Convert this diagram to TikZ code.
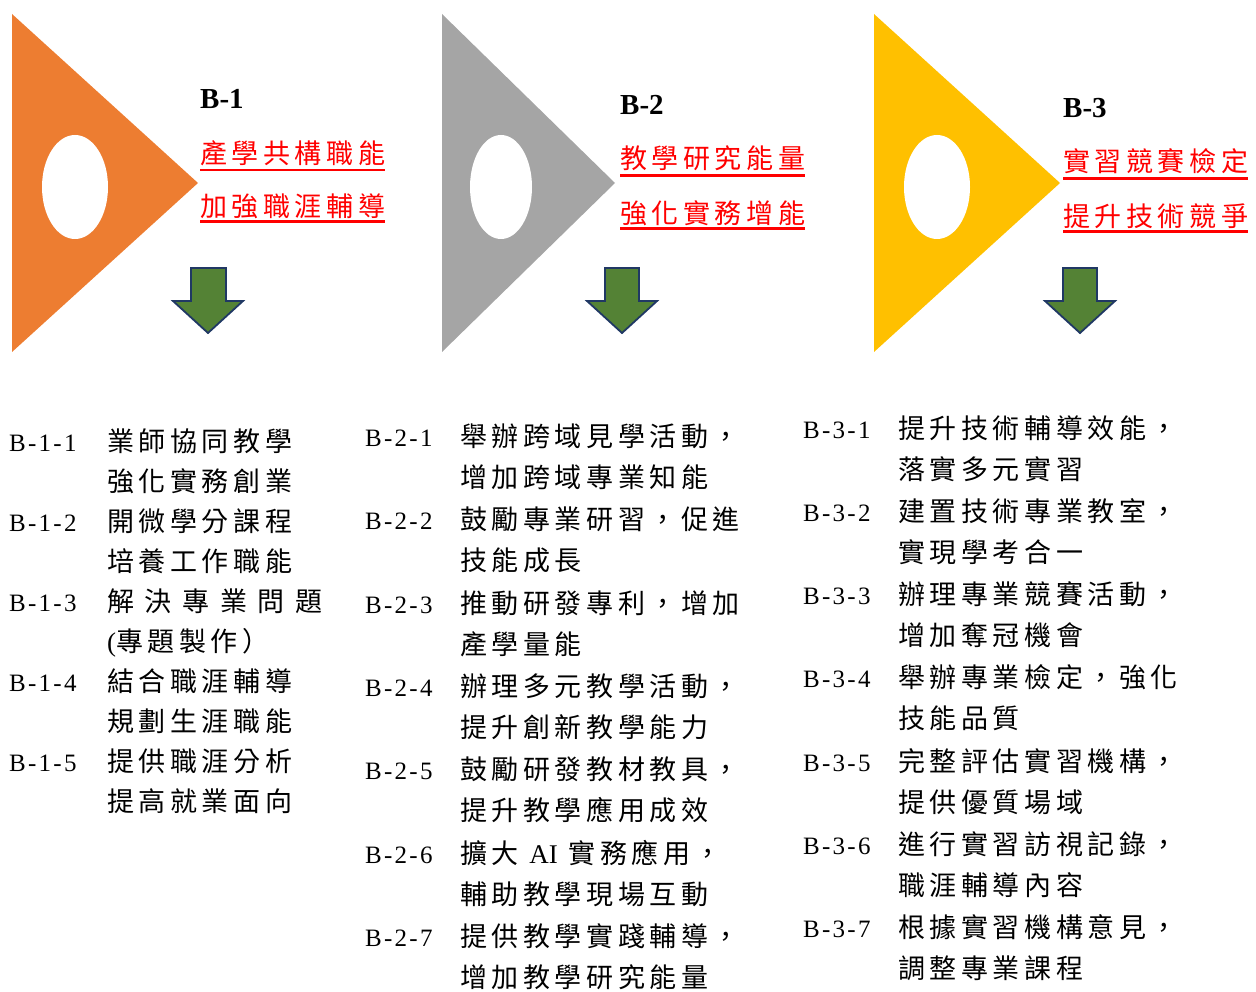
\documentclass[tikz,border=0pt]{standalone}
\usepackage{fontspec}
\setmainfont{Liberation Serif}
\newfontfamily\zhfont[LetterSpace=17]{Noto Sans CJK TC}
\newfontfamily\enfont[LetterSpace=9]{Liberation Serif}
\usepackage{tikz}
\usetikzlibrary{positioning, shapes.geometric}

\definecolor{orangetri}{HTML}{ED7D31}
\definecolor{graytri}{HTML}{A5A5A5}
\definecolor{goldtri}{HTML}{FFC000}
\definecolor{arrowgreen}{HTML}{548235}
\definecolor{arrowedge}{HTML}{203864}

\tikzset{
  hole/.style={ellipse, fill=white, draw=none, inner sep=0pt},
  bhead/.style={anchor=base west, inner sep=0pt, font=\fontsize{29}{29}\selectfont\bfseries},
  goal/.style={anchor=base west, inner sep=0pt, text=red, font=\fontsize{27}{30}\selectfont\zhfont},
  uline/.style={red, line width=2.2pt},
  blockarrow/.style={fill=arrowgreen, draw=arrowedge, line width=1.8pt, line join=miter},
  code/.style={anchor=base west, inner sep=0pt, font=\fontsize{25}{40}\selectfont\enfont},
  % base of a two-line node sits on its second line
  plan/.style={anchor=base west, inner sep=0pt, align=left, font=\fontsize{27}{40}\selectfont\zhfont},
  plantwo/.style={plan, font=\fontsize{27}{41.6}\selectfont\zhfont}
}

\begin{document}
\begin{tikzpicture}[x=1pt, y=-1pt]
\useasboundingbox (0,0) rectangle (1256,992);

% B-1
\fill[orangetri] (12,14) -- (198,183) -- (12,352) -- cycle;
\node[hole, minimum width=66pt, minimum height=104pt] (hole1) at (75,187) {};
\node[bhead] (b1) at (200,109) {B-1};
\node[goal] (g11) at (200,164) {產學共構職能};
\node[goal] (g12) at (200,217) {加強職涯輔導};
\draw[uline] ([yshift=-3pt]g11.south west) -- ([yshift=-3pt]g11.south east);
\draw[uline] ([yshift=-2pt]g12.south west) -- ([yshift=-2pt]g12.south east);
\draw[blockarrow] (191,268) -- (226,268) -- (226,301) -- (243,301) -- (208,333)
  -- (173,301) -- (191,301) -- cycle;

% B-2
\fill[graytri] (442,14) -- (615,183) -- (442,352) -- cycle;
\node[hole, minimum width=62pt, minimum height=104pt] (hole2) at (501,187) {};
\node[bhead] (b2) at (620,115) {B-2};
\node[goal] (g21) at (620,169) {教學研究能量};
\node[goal] (g22) at (620,224) {強化實務增能};
\draw[uline] ([yshift=-4pt]g21.south west) -- ([yshift=-4pt]g21.south east);
\draw[uline] ([yshift=-2pt]g22.south west) -- ([yshift=-2pt]g22.south east);
\draw[blockarrow] (605,268) -- (639,268) -- (639,301) -- (657,301) -- (622,333)
  -- (587,301) -- (605,301) -- cycle;

% B-3
\fill[goldtri] (874,14) -- (1060,183) -- (874,352) -- cycle;
\node[hole, minimum width=66pt, minimum height=104pt] (hole3) at (937,187) {};
\node[bhead] (b3) at (1063,118) {B-3};
\node[goal] (g31) at (1063,172) {實習競賽檢定};
\node[goal] (g32) at (1063,227) {提升技術競爭};
\draw[uline] ([yshift=-4pt]g31.south west) -- ([yshift=-4pt]g31.south east);
\draw[uline] ([yshift=-2pt]g32.south west) -- ([yshift=-2pt]g32.south east);
\draw[blockarrow] (1063,268) -- (1097,268) -- (1097,301) -- (1115,301) -- (1080,333)
  -- (1045,301) -- (1063,301) -- cycle;

% B-1 plans
\node[code] (c11) at (9,451) {B-1-1};
\node[plan] (p11) at (107,491) {業師協同教學\\強化實務創業};
\node[code] (c12) at (9,531) {B-1-2};
\node[plan] (p12) at (107,571) {開微學分課程\\培養工作職能};
\node[code] (c13) at (9,611) {B-1-3};
\node[plan] (p13) at (107,651) {解 決 專 業 問 題\\{\rmfamily(}專題製作）};
\node[code] (c14) at (9,691) {B-1-4};
\node[plan] (p14) at (107,731) {結合職涯輔導\\規劃生涯職能};
\node[code] (c15) at (9,771) {B-1-5};
\node[plan] (p15) at (107,811) {提供職涯分析\\提高就業面向};

% B-2 plans
\node[code] (c21) at (365,446) {B-2-1};
\node[plantwo] (p21) at (460,487.6) {舉辦跨域見學活動，\\增加跨域專業知能};
\node[code] (c22) at (365,529) {B-2-2};
\node[plantwo] (p22) at (460,570.6) {鼓勵專業研習，促進\\技能成長};
\node[code] (c23) at (365,613) {B-2-3};
\node[plantwo] (p23) at (460,654.6) {推動研發專利，增加\\產學量能};
\node[code] (c24) at (365,696) {B-2-4};
\node[plantwo] (p24) at (460,737.6) {辦理多元教學活動，\\提升創新教學能力};
\node[code] (c25) at (365,779) {B-2-5};
\node[plantwo] (p25) at (460,820.6) {鼓勵研發教材教具，\\提升教學應用成效};
\node[code] (c26) at (365,863) {B-2-6};
\node[plantwo] (p26) at (460,904.6) {擴大 {\rmfamily AI} 實務應用，\\輔助教學現場互動};
\node[code] (c27) at (365,946) {B-2-7};
\node[plantwo] (p27) at (460,987.6) {提供教學實踐輔導，\\增加教學研究能量};

% B-3 plans
\node[code] (c31) at (803,438) {B-3-1};
\node[plantwo] (p31) at (898,479.6) {提升技術輔導效能，\\落實多元實習};
\node[code] (c32) at (803,521) {B-3-2};
\node[plantwo] (p32) at (898,562.6) {建置技術專業教室，\\實現學考合一};
\node[code] (c33) at (803,604) {B-3-3};
\node[plantwo] (p33) at (898,645.6) {辦理專業競賽活動，\\增加奪冠機會};
\node[code] (c34) at (803,687) {B-3-4};
\node[plantwo] (p34) at (898,728.6) {舉辦專業檢定，強化\\技能品質};
\node[code] (c35) at (803,771) {B-3-5};
\node[plantwo] (p35) at (898,812.6) {完整評估實習機構，\\提供優質場域};
\node[code] (c36) at (803,854) {B-3-6};
\node[plantwo] (p36) at (898,895.6) {進行實習訪視記錄，\\職涯輔導內容};
\node[code] (c37) at (803,937) {B-3-7};
\node[plantwo] (p37) at (898,978.6) {根據實習機構意見，\\調整專業課程};

\end{tikzpicture}
\end{document}
